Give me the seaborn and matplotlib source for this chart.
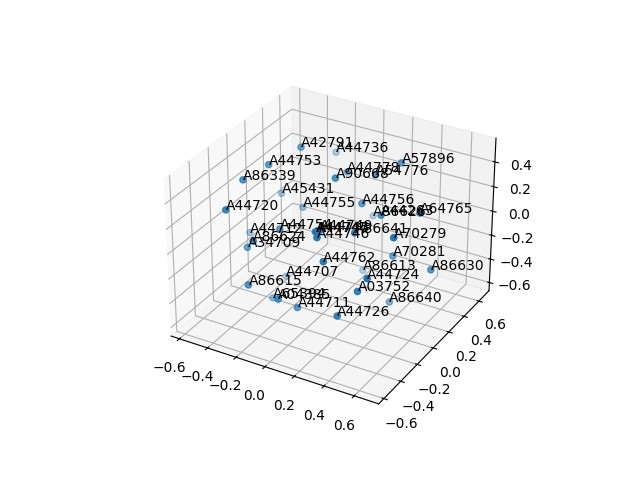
import matplotlib
matplotlib.use('Agg')
import matplotlib.pyplot as plt
import seaborn as sns

# --- DATA ---
labels = ['A42791', 'A44736', 'A44753', 'A86339', 'A45431', 'A44720', 'A44755', 'A90668',
          'A44778', 'A54776', 'A57896', 'A44756', 'A86626', 'A44263', 'A64765', 'A70279',
          'A86641', 'A44745', 'A44746', 'A44749', 'A44747', 'A44712', 'A44754', 'A86624',
          'A34709', 'A44762', 'A44707', 'A86615', 'A65394', 'A04385', 'A44711', 'A44726',
          'A86613', 'A44724', 'A03752', 'A86640', 'A70281', 'A86630']
xs = [-0.21, -0.32, -0.26, -0.29, -0.5, -0.26, -0.31, 0.16, -0.13, 0.34, 0.4, 0.24, -0.05,
      0.44, 0.67, 0.73, 0.38, 0.28, 0.34, 0.29, 0.27, -0.61, -0.09, -0.08, -0.33, 0.38,
      -0.4, -0.12, -0.33, 0.08, 0.11, 0.47, -0.02, 0.66, 0.56, 0.39, 0.43, 0.73]
ys = [0.11, 0.71, -0.17, -0.4, 0.35, -0.63, 0.29, -0.12, 0.52, 0.03, 0.23, 0.05, 0.71,
      -0.08, -0.04, -0.46, -0.28, -0.53, -0.63, -0.51, -0.53, 0.15, -0.33, -0.63, -0.31,
      -0.63, 0.23, -0.63, -0.04, -0.63, -0.47, -0.63, 0.53, -0.63, -0.56, 0.13, 0.09, 0.0]
zs = [0.56, 0.16, 0.56, 0.56, -0.04, 0.47, -0.06, 0.56, 0.16, 0.56, 0.56, 0.29, -0.29,
      0.34, 0.41, 0.49, 0.3, 0.42, 0.46, 0.43, 0.42, -0.29, 0.2, 0.29, -0.04, 0.29,
      -0.64, -0.07, -0.63, -0.11, -0.27, -0.1, -0.64, 0.26, 0.08, -0.51, -0.09, -0.04]

color = sns.color_palette('tab10')[0]

fig = plt.figure(figsize=(6.4, 4.8), dpi=100)
ax = fig.add_subplot(projection='3d')
ax.scatter(xs, ys, zs, color=color)
for name, x, y, z in zip(labels, xs, ys, zs):
    ax.text(x, y, z, name)

ax.set_xlim(-0.66, 0.76)
ax.set_ylim(-0.66, 0.74)
ax.set_zlim(-0.67, 0.59)

fig.savefig('out.png', dpi=100)
plt.close(fig)
